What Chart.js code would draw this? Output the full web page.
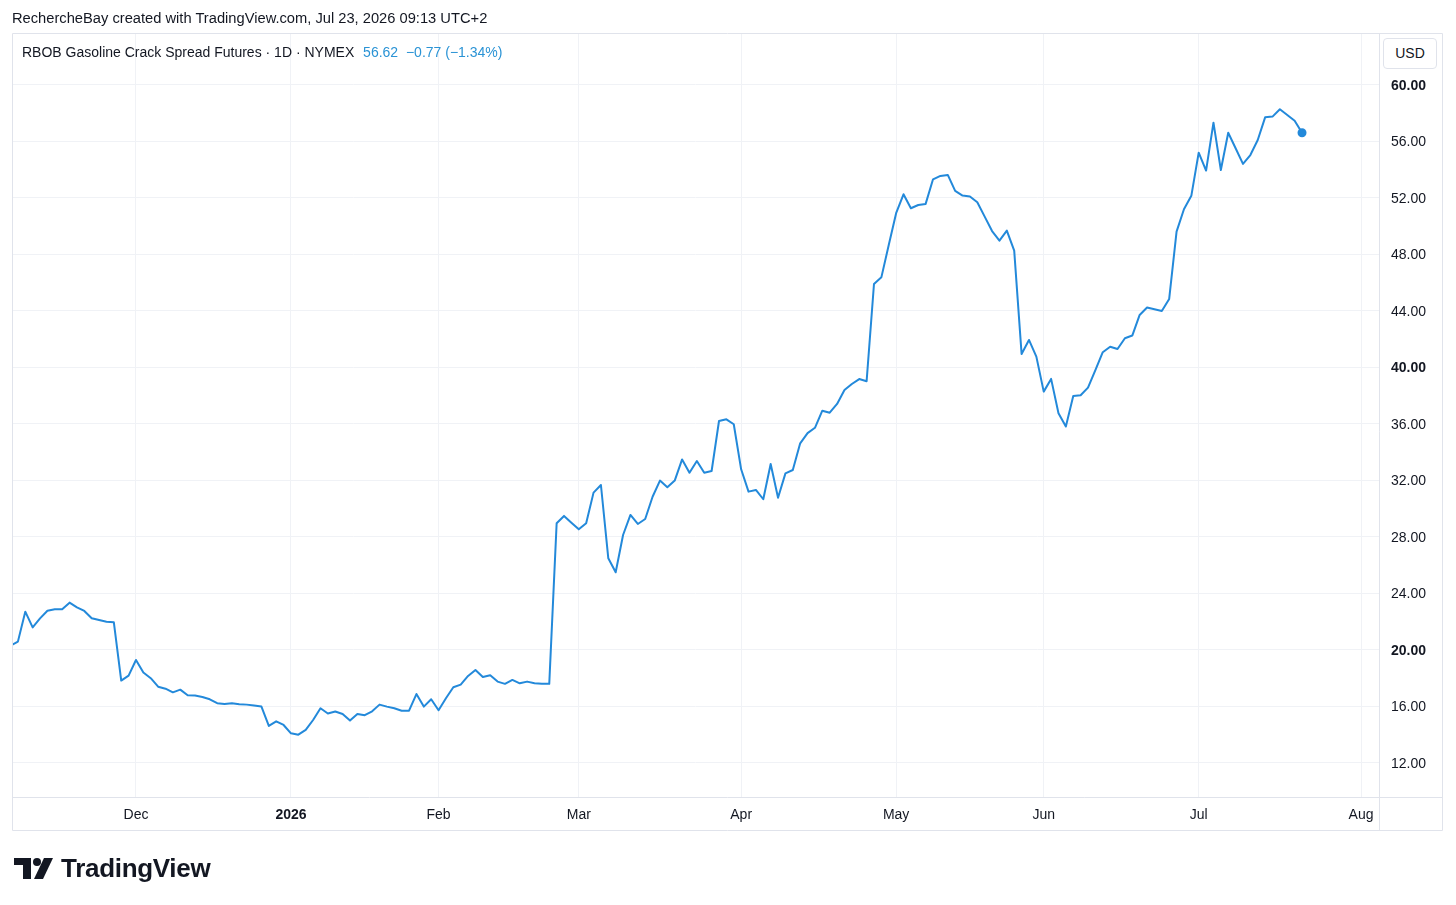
<!DOCTYPE html>
<html>
<head>
<meta charset="utf-8">
<title>RBOB Gasoline Crack Spread Futures</title>
<script src="https://cdn.jsdelivr.net/npm/chart.js@4.4.1/dist/chart.umd.min.js"></script>
<style>
  body { margin: 0; background: #fff; font-family: "Liberation Sans", Arial, sans-serif; color: #131722; }
  #wrap { position: relative; width: 1456px; height: 905px; overflow: hidden; }
  #chart { position: absolute; left: 0; top: 0; }
  .credit { position: absolute; left: 12px; top: 10px; font-size: 14.7px; white-space: nowrap; }
  .legend { position: absolute; left: 22px; top: 44px; font-size: 14px; white-space: nowrap; }
  .legend .val { color: #2a93d5; margin-left: 5px; }
  .usd { position: absolute; left: 1383px; top: 38px; width: 52px; height: 29px; border: 1px solid #e0e3eb;
         border-radius: 4px; font-size: 14px; text-align: center; line-height: 29px; background: #fff; }
  .logo { position: absolute; left: 14px; top: 853px; display: flex; align-items: center; }
  .logo span { font-size: 26px; font-weight: bold; margin-left: 7px; letter-spacing: -0.3px; color: #131722; }
</style>
</head>
<body>
<div id="wrap">
  <canvas id="chart" width="1456" height="905"></canvas>
  <div class="credit">RechercheBay created with TradingView.com, Jul 23, 2026 09:13 UTC+2</div>
  <div class="legend">RBOB Gasoline Crack Spread Futures · 1D · NYMEX <span class="val">56.62&nbsp;&nbsp;−0.77 (−1.34%)</span></div>
  <div class="usd">USD</div>
  <div class="logo">
    <svg width="40" height="24" viewBox="0 0 40 24">
      <path d="M0 1 H17 V22 H9 V8 H0 Z" fill="#131722"/>
      <circle cx="23" cy="5" r="4" fill="#131722"/>
      <path d="M30 1 H39 L29 22 H20 Z" fill="#131722"/>
    </svg>
    <span>TradingView</span>
  </div>
</div>
<script>
// daily closes (one value per trading day)
const novValues = [20.3, 20.59, 22.71, 21.6, 22.24, 22.78, 22.88, 22.88, 23.35, 23.02, 22.76, 22.24, 22.12, 22.0, 21.96, 17.83, 18.18];
const decValues = [19.29, 18.4, 18.0, 17.4, 17.26, 17.0, 17.19, 16.79, 16.77, 16.67, 16.51, 16.23, 16.18, 16.23, 16.16, 16.13, 16.06, 15.99, 14.62, 14.95, 14.69];
const janValues = [14.1, 14.0, 14.34, 15.04, 15.87, 15.5, 15.64, 15.47, 15.0, 15.47, 15.38, 15.66, 16.13, 15.99, 15.87, 15.7, 15.7, 16.88, 15.99, 16.51];
const febValues = [15.73, 16.58, 17.36, 17.55, 18.16, 18.58, 18.09, 18.21, 17.76, 17.6, 17.88, 17.64, 17.76, 17.64, 17.6, 17.6, 28.97, 29.49, 29.01];
const marValues = [28.54, 28.97, 31.14, 31.68, 26.49, 25.5, 28.14, 29.56, 28.92, 29.27, 30.85, 31.99, 31.52, 31.99, 33.49, 32.55, 33.38, 32.55, 32.67, 36.21, 36.33, 35.98];
const aprValues = [32.79, 31.21, 31.33, 30.67, 33.17, 30.78, 32.5, 32.74, 34.63, 35.35, 35.73, 36.94, 36.8, 37.42, 38.4, 38.83, 39.18, 39.02, 45.91, 46.38, 48.67];
const mayValues = [50.92, 52.26, 51.27, 51.5, 51.58, 53.32, 53.56, 53.63, 52.5, 52.17, 52.1, 51.7, 50.68, 49.66, 48.98, 49.69, 48.27, 40.96, 41.95, 40.77];
const junValues = [38.29, 39.19, 36.76, 35.82, 37.98, 38.03, 38.57, 39.82, 41.08, 41.47, 41.31, 42.07, 42.26, 43.72, 44.24, 44.12, 44.0, 44.85, 49.62, 51.2, 52.15];
const julValues = [55.21, 53.94, 57.33, 53.98, 56.62, 55.52, 54.41, 55.04, 56.1, 57.71, 57.76, 58.28, 57.88, 57.47, 56.62];

// trading-day index of the first value (0 = Dec 1)
const firstIndex = -17;
const monthTicks = [0, 21, 41, 60, 82, 103, 123, 144, 166];
const monthLabels = ['Dec', '2026', 'Feb', 'Mar', 'Apr', 'May', 'Jun', 'Jul', 'Aug'];
const priceTicks = [12, 16, 20, 24, 28, 32, 36, 40, 44, 48, 52, 56, 60];
const boldPrices = [20, 40, 60];

const allValues = [].concat(novValues, decValues, janValues, febValues, marValues, aprValues, mayValues, junValues, julValues);
const points = allValues.map((v, i) => ({ x: firstIndex + i, y: v }));
const lastIdx = points.length - 1;

const lineColor = '#2389da';
const frameColor = '#e0e3eb';

Chart.defaults.font.family = '"Liberation Sans", Arial, sans-serif';
Chart.defaults.font.size = 14;
Chart.defaults.color = '#131722';

// outer frame + axis separators like the TradingView panel
const framePlugin = {
  id: 'frame',
  afterDraw(chart) {
    const ctx = chart.ctx;
    const a = chart.chartArea;
    ctx.save();
    ctx.strokeStyle = frameColor;
    ctx.lineWidth = 1;
    ctx.beginPath();
    ctx.rect(a.left + 0.5, a.top + 0.5, 1442 - a.left, 830 - a.top);
    ctx.moveTo(a.right + 0.5, a.top);
    ctx.lineTo(a.right + 0.5, 830.5);
    ctx.moveTo(a.left, a.bottom + 0.5);
    ctx.lineTo(1442.5, a.bottom + 0.5);
    ctx.stroke();
    ctx.restore();
  }
};

new Chart(document.getElementById('chart'), {
  type: 'line',
  data: {
    datasets: [{
      data: points,
      borderColor: lineColor,
      backgroundColor: lineColor,
      borderWidth: 2,
      borderJoinStyle: 'round',
      borderCapStyle: 'round',
      tension: 0,
      pointRadius: ctx => ctx.dataIndex === lastIdx ? 3.5 : 0,
      pointHoverRadius: 0
    }]
  },
  options: {
    responsive: false,
    animation: false,
    layout: { padding: { left: 12, top: 33, right: 14, bottom: 75 } },
    plugins: { legend: { display: false }, tooltip: { enabled: false } },
    scales: {
      x: {
        type: 'linear',
        min: -16.8,
        max: 168.43,
        afterBuildTicks: s => { s.ticks = monthTicks.map(v => ({ value: v })); },
        afterFit: s => { s.height = 33; },
        grid: { color: '#f0f2f6', drawTicks: false },
        border: { display: false },
        ticks: {
          autoSkip: false,
          maxRotation: 0,
          padding: 10,
          callback: (v, i) => monthLabels[i],
          font: ctx => ({ size: 14, weight: ctx.tick && ctx.tick.value === 21 ? 'bold' : 'normal' })
        }
      },
      y: {
        position: 'right',
        min: 9.59,
        max: 63.68,
        afterBuildTicks: s => { s.ticks = priceTicks.map(v => ({ value: v })); },
        afterFit: s => { s.width = 63; },
        grid: { color: '#f0f2f6', drawTicks: false },
        border: { display: false },
        ticks: {
          padding: 12,
          labelOffset: 1,
          callback: v => v.toFixed(2),
          font: ctx => ({ size: 14, weight: ctx.tick && boldPrices.includes(ctx.tick.value) ? 'bold' : 'normal' })
        }
      }
    }
  },
  plugins: [framePlugin]
});
</script>
</body>
</html>
